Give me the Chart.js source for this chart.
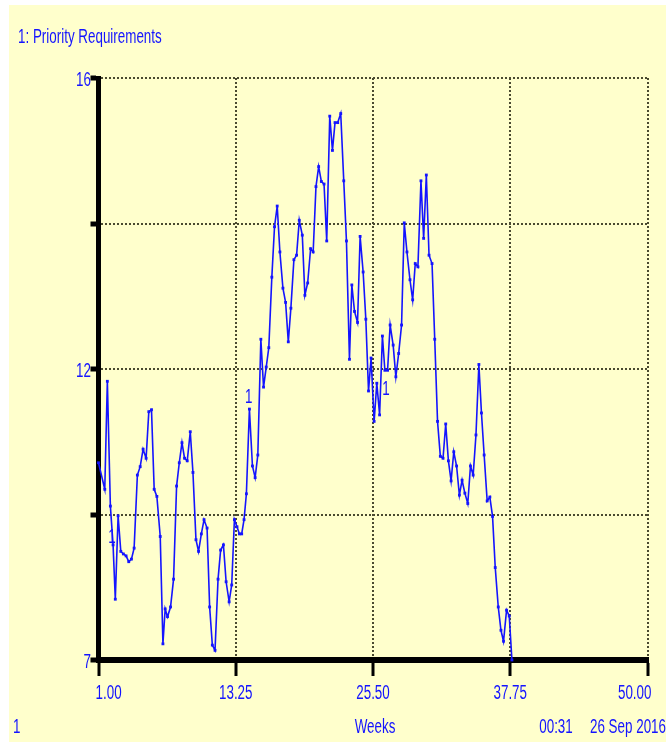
<!DOCTYPE html>
<html>
<head>
<meta charset="utf-8">
<title>Priority Requirements</title>
<script src="https://cdn.jsdelivr.net/npm/chart.js@4.4.1/dist/chart.umd.min.js"></script>
<style>
  html, body { margin: 0; padding: 0; background: #ffffff; }
  #wrap { position: relative; width: 670px; height: 742px; }
  #priorityChart { position: absolute; left: 0; top: 0; }
</style>
</head>
<body>
<div id="wrap">
  <canvas id="priorityChart" width="670" height="742"></canvas>
</div>
<script>
// weeks of each saved point and the value of "1: Priority Requirements"
const weeks = [
  1.00, 1.56, 1.79, 2.06, 2.30, 2.50, 2.75, 2.99, 3.22, 3.46,
  3.70, 3.94, 4.18, 4.47, 4.72, 4.98, 5.25, 5.49, 5.73, 5.97,
  6.21, 6.51, 6.75, 6.95, 7.16, 7.43, 7.70, 7.97, 8.21, 8.45,
  8.68, 8.92, 9.19, 9.43, 9.70, 9.93, 10.18, 10.42, 10.69, 10.92,
  11.16, 11.40, 11.67, 11.90, 12.15, 12.39, 12.66, 12.89, 13.13, 13.36,
  13.58, 13.78, 13.99, 14.20, 14.47, 14.74, 14.98, 15.22, 15.49, 15.73,
  15.97, 16.20, 16.47, 16.71, 16.95, 17.19, 17.46, 17.70, 17.94, 18.17,
  18.44, 18.68, 18.92, 19.19, 19.42, 19.67, 19.93, 20.16, 20.41, 20.65,
  20.89, 21.13, 21.37, 21.64, 21.88, 22.11, 22.35, 22.62, 22.89, 23.13,
  23.40, 23.61, 23.85, 24.12, 24.35, 24.62, 24.86, 25.10, 25.33, 25.60,
  25.84, 26.09, 26.34, 26.56, 26.80, 27.03, 27.30, 27.54, 27.79, 28.05,
  28.29, 28.53, 28.80, 29.04, 29.27, 29.51, 29.78, 30.02, 30.26, 30.50,
  30.77, 31.01, 31.26, 31.51, 31.75, 31.99, 32.23, 32.47, 32.71, 32.96,
  33.21, 33.45, 33.70, 33.96, 34.20, 34.44, 34.69, 34.95, 35.18, 35.42,
  35.69, 35.93, 36.17, 36.41, 36.68, 36.92, 37.15, 37.42, 37.66, 37.90
];
const priorityRequirements = [
  10.05, 9.64, 11.31, 9.38, 8.78, 7.94, 9.23, 8.68, 8.64, 8.61,
  8.52, 8.56, 8.73, 9.86, 9.99, 10.26, 10.12, 10.84, 10.87, 9.64,
  9.53, 8.91, 7.25, 7.79, 7.67, 7.82, 8.25, 9.69, 10.05, 10.36,
  10.12, 10.08, 10.53, 9.90, 8.86, 8.68, 8.95, 9.17, 9.04, 7.82,
  7.23, 7.15, 8.25, 8.70, 8.78, 8.21, 7.90, 8.16, 9.17, 9.06,
  8.95, 8.95, 9.17, 9.57, 10.88, 10.00, 9.82, 10.17, 11.96, 11.22,
  11.53, 11.83, 12.92, 13.70, 14.02, 13.31, 12.75, 12.53, 11.92, 12.44,
  13.19, 13.26, 13.80, 13.57, 12.64, 12.83, 13.36, 13.31, 14.32, 14.63,
  14.40, 14.36, 13.48, 15.41, 14.88, 15.31, 15.31, 15.45, 14.41, 13.48,
  11.65, 12.80, 12.39, 12.22, 13.55, 13.00, 12.27, 11.16, 11.67, 10.69,
  11.28, 10.79, 12.01, 11.48, 11.48, 12.18, 11.87, 11.38, 11.74, 12.18,
  13.76, 13.31, 12.88, 12.57, 13.13, 13.08, 14.41, 13.52, 14.50, 13.26,
  13.13, 11.96, 10.69, 10.15, 10.12, 10.65, 10.08, 9.77, 10.22, 10.00,
  9.55, 9.78, 9.58, 9.42, 10.00, 9.86, 10.48, 11.57, 10.82, 10.17,
  9.46, 9.52, 9.22, 8.43, 7.82, 7.46, 7.29, 7.77, 7.68, 7.00
];

// tick labels as the plot prints them (middle of 7..16 shown rounded)
const xTickLabels = ["1.00", "13.25", "25.50", "37.75", "50.00"];
const yTickLabels = ["7", "", "12", "", "16"];

// where the curve number "1" is written next to the line
const curveLabelWeeks = [2.21, 14.41, 26.65];
const curveLabelValues = [8.89, 11.06, 11.19];

const footerTexts = ["1", "Weeks", "00:31", "26 Sep 2016"];

const BLUE = "rgb(20,20,255)";
const FONT = '20px "Liberation Sans", Arial, sans-serif';
const SQUEEZE = 0.67;   // the plot uses a tall narrow face

function narrowText(ctx, str, x, y, align) {
  ctx.save();
  ctx.translate(x, y);
  ctx.scale(SQUEEZE, 1);
  ctx.font = FONT;
  ctx.fillStyle = BLUE;
  ctx.textAlign = align;
  ctx.textBaseline = "middle";
  ctx.fillText(str, 0, 0);
  ctx.restore();
}

const paperPlugin = {
  id: "paper",
  beforeDraw(chart) {
    const ctx = chart.ctx;
    ctx.save();
    ctx.fillStyle = "#ffffcc";
    ctx.fillRect(9, 5, 657, 737);
    ctx.restore();
  },
  afterDraw(chart) {
    const ctx = chart.ctx;
    const xs = chart.scales.x;
    const ys = chart.scales.y;

    narrowText(ctx, "1: Priority Requirements", 18, 37, "left");

    // y tick labels
    ys.ticks.forEach((t, i) => {
      const label = yTickLabels[i];
      if (label) narrowText(ctx, label, 91, ys.getPixelForValue(t.value) + 2, "right");
    });

    // x tick labels, outer ones kept inside the frame
    xs.ticks.forEach((t, i) => {
      const px = xs.getPixelForValue(t.value);
      let align = "center";
      let off = 0;
      if (i === 0) { align = "left"; off = -3; }
      if (i === xs.ticks.length - 1) { align = "right"; off = 4; }
      narrowText(ctx, xTickLabels[i], px + off, 693, align);
    });

    curveLabelWeeks.forEach((w, i) => {
      narrowText(ctx, "1", xs.getPixelForValue(w), ys.getPixelForValue(curveLabelValues[i]), "center");
    });

    narrowText(ctx, footerTexts[0], 13, 727, "left");
    narrowText(ctx, footerTexts[1], 375, 727, "center");
    narrowText(ctx, footerTexts[2], 556, 727, "center");
    narrowText(ctx, footerTexts[3], 666, 727, "right");
  }
};

const ctx = document.getElementById("priorityChart").getContext("2d");

new Chart(ctx, {
  type: "line",
  data: {
    datasets: [
      {
        label: "1: Priority Requirements",
        data: weeks.map((w, i) => ({ x: w, y: priorityRequirements[i] })),
        borderColor: BLUE,
        backgroundColor: BLUE,
        borderWidth: 1.6,
        pointStyle: "rect",
        pointRadius: 2,
        pointBorderWidth: 0,
        tension: 0,
        fill: false,
        clip: false,
      },
    ],
  },
  options: {
    responsive: false,
    animation: false,
    layout: { padding: { left: 0, top: 78, right: 22.5, bottom: 0 } },
    plugins: {
      legend: { display: false },
      tooltip: { enabled: false },
    },
    scales: {
      x: {
        type: "linear",
        min: 1,
        max: 50,
        ticks: { stepSize: 12.25, display: false },
        afterFit(scale) { scale.height = 82; },
        grid: {
          color: "#4a4a30",
          lineWidth: 2,
          tickLength: 16,
          tickWidth: 3,
          tickColor: "#000",
          tickBorderDash: [],
        },
        border: { display: true, color: "#000", width: 6, dash: [2, 2] },
      },
      y: {
        min: 7,
        max: 16,
        ticks: { stepSize: 2.25, display: false },
        afterFit(scale) { scale.width = 98.5; },
        grid: {
          color: "#4a4a30",
          lineWidth: 2,
          tickLength: 8,
          tickWidth: 5,
          tickColor: "#000",
          tickBorderDash: [],
        },
        border: { display: true, color: "#000", width: 5, dash: [2, 2] },
      },
    },
  },
  plugins: [paperPlugin],
});
</script>
</body>
</html>
